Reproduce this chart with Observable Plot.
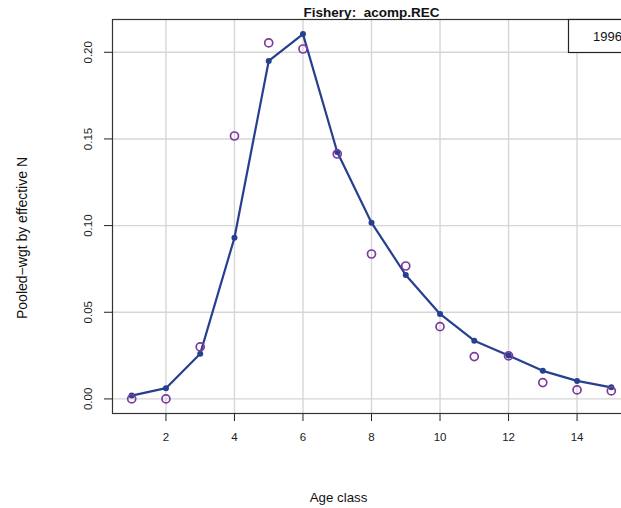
<!DOCTYPE html>
<html>
<head>
<meta charset="utf-8">
<script src="https://cdn.jsdelivr.net/npm/d3@7"></script>
<script src="https://cdn.jsdelivr.net/npm/@observablehq/plot@0.6"></script>
<style>
  html, body { margin: 0; padding: 0; background: white; }
  #chart svg { display: block; font-family: "Liberation Sans", Arial, sans-serif; }
</style>
</head>
<body>
<div id="chart"></div>
<script>
// Data
const ages = [1, 2, 3, 4, 5, 6, 7, 8, 9, 10, 11, 12, 13, 14, 15];
const expectedVals = [0.0019, 0.0062, 0.026, 0.093, 0.195, 0.2105, 0.1425, 0.1017, 0.0715, 0.049, 0.0336, 0.025, 0.0162, 0.0104, 0.0067];
const observedVals = [0.000, 0.000, 0.030, 0.1517, 0.2054, 0.2019, 0.1413, 0.0836, 0.0767, 0.0417, 0.0244, 0.0248, 0.0094, 0.0052, 0.0046];
const xTicks = [2, 4, 6, 8, 10, 12, 14];
const yTicks = [0, 0.05, 0.10, 0.15, 0.20];
const titleText = "Fishery:  acomp.REC";
const xLabel = "Age class";
const yLabel = "Pooled\u2212wgt by effective N";
const legendText = "1996";

const expected = ages.map((a, i) => ({age: a, value: expectedVals[i]}));
const observed = ages.map((a, i) => ({age: a, value: observedVals[i]}));

// R-style 4% padding on the axes
const xPad = (d3.max(ages) - d3.min(ages)) * 0.04;
const allY = expectedVals.concat(observedVals);
const yPad = (d3.max(allY) - d3.min(allY)) * 0.04;

const lineColor = "#26408f";
const obsColor = "#7b3a9c";

const plot = Plot.plot({
  width: 621,
  height: 508,
  marginLeft: 112,
  marginRight: -9,
  marginTop: 19,
  marginBottom: 95,
  style: {fontFamily: "Liberation Sans, Arial, sans-serif", background: "white"},
  x: {domain: [d3.min(ages) - xPad, d3.max(ages) + xPad], label: null},
  y: {domain: [d3.min(allY) - yPad, d3.max(allY) + yPad], label: null},
  marks: [
    Plot.gridX(xTicks, {stroke: "#d6d6d6", strokeOpacity: 1, strokeWidth: 1.4}),
    Plot.gridY(yTicks, {stroke: "#d6d6d6", strokeOpacity: 1, strokeWidth: 1.4}),
    Plot.axisX({ticks: xTicks, tickSize: 8, tickPadding: 11, fontSize: 11.5, stroke: "#222", label: null, tickFormat: d => String(d), fill: "#1a1a1a"}),
    Plot.axisY({ticks: yTicks, tickSize: 8, label: null, stroke: "#222", tickFormat: () => ""}),
    Plot.text(yTicks, {y: d => d, text: d => d3.format(".2f")(d), frameAnchor: "left", dx: -24, rotate: -90, fontSize: 11.5, fill: "#1a1a1a", lineAnchor: "middle", textAnchor: "middle"}),
    Plot.line(expected, {x: "age", y: "value", stroke: lineColor, strokeWidth: 2.2}),
    Plot.dot(expected, {x: "age", y: "value", r: 3, fill: lineColor, stroke: "none"}),
    Plot.dot(observed, {x: "age", y: "value", r: 4, stroke: obsColor, strokeWidth: 1.7, fill: "none"}),
    Plot.frame({stroke: "#333", strokeWidth: 1.2}),
    Plot.text([titleText], {frameAnchor: "top", dy: -2.5, lineAnchor: "bottom", fontSize: 13.5, fontWeight: "bold", fill: "#111"}),
    Plot.text([xLabel], {frameAnchor: "bottom", dx: -33, dy: 88, lineAnchor: "bottom", fontSize: 13.3, fill: "#111"})
  ]
});

const svg = d3.select(plot);

// Y-axis title
svg.append("text")
  .attr("transform", "translate(27,238) rotate(-90)")
  .attr("text-anchor", "middle")
  .attr("font-size", 14)
  .attr("fill", "#111")
  .text(yLabel);

// Legend box (top-right, clipped by the window like the reference)
const g = svg.append("g");
g.append("rect")
  .attr("x", 568.5).attr("y", 19.5)
  .attr("width", 80).attr("height", 33)
  .attr("fill", "white").attr("stroke", "#222").attr("stroke-width", 1.2);
g.append("text")
  .attr("x", 593).attr("y", 40.5)
  .attr("text-anchor", "start")
  .attr("font-size", 13).attr("fill", "#111")
  .text(legendText);

document.getElementById("chart").appendChild(plot);
</script>
</body>
</html>
